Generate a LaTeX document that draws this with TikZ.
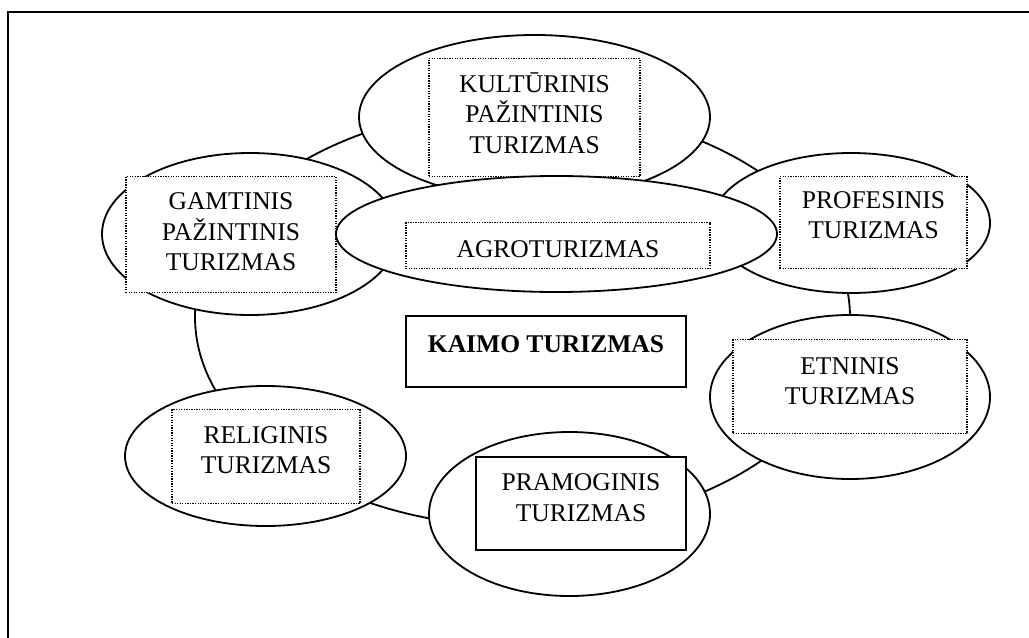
\documentclass[tikz,border=0pt]{standalone}
\usepackage{fontspec}
\setmainfont{Liberation Serif}
\usetikzlibrary{shapes.geometric}
\tikzset{
oval/.style={ellipse,draw=black,fill=white,line width=0.85pt,inner sep=0pt},
ovalsize/.style 2 args={minimum width=#1,minimum height=#2},
dotbox/.style={draw=black,fill=white,line width=0.6pt,dash pattern=on 0.6pt off 0.6pt,
inner sep=0pt,anchor=north,align=center},
solidbox/.style={draw=black,fill=white,line width=0.95pt,inner sep=0pt,anchor=north,align=center},
boxsize/.style n args={3}{minimum width=#1,text height=#2,text depth=#3},
ring/.style={line width=0.85pt},
frame/.style={line width=0.95pt}
}

\begin{document}
\begin{tikzpicture}[x=0.47pt,y=-0.47pt,every node/.style={font=\fontsize{12}{14.4}\selectfont}]
\useasboundingbox (0,0) rectangle (1029,637);
\clip (0,0) rectangle (1029,637);
\draw[frame] (8,12) rectangle (1045,660);
% ring behind the ovals
\draw[ring] (522.5,317) ellipse [x radius=327.5,y radius=210];
% ovals with their boxes
\node[oval,ovalsize={164.97pt}{77.08pt}] (kultoval) at (534.5,117) {};
\node[dotbox,boxsize={99.17pt}{44.65pt}{10.81pt}] (kult) at (534.5,58) {KULTŪRINIS\\PAŽINTINIS\\TURIZMAS};
\node[oval,ovalsize={139.12pt}{76.14pt}] (gamtoval) at (250,234) {};
\node[dotbox,boxsize={98.70pt}{44.18pt}{10.34pt}] (gamt) at (231,176) {GAMTINIS\\PAŽINTINIS\\TURIZMAS};
\node[oval,ovalsize={130.66pt}{65.8pt}] (profoval) at (851,223) {};
\node[dotbox,boxsize={87.89pt}{29.14pt}{14.10pt}] (prof) at (873.5,176) {PROFESINIS\\TURIZMAS};
\node[oval,ovalsize={207.27pt}{54.52pt}] (agrooval) at (556.5,234) {};
\node[dotbox,boxsize={142.88pt}{16.45pt}{5.17pt}] (agro) at (558,222) {AGROTURIZMAS};
\node[oval,ovalsize={131.6pt}{77.08pt}] (etnoval) at (850,397) {};
\node[dotbox,boxsize={109.98pt}{30.55pt}{13.63pt}] (etn) at (850,339) {ETNINIS\\TURIZMAS};
\node[oval,ovalsize={132.07pt}{77.08pt}] (pramoval) at (569.5,514) {};
\node[solidbox,boxsize={98.70pt}{30.08pt}{13.63pt}] (pram) at (581,456) {PRAMOGINIS\\TURIZMAS};
\node[oval,ovalsize={132.07pt}{65.8pt}] (reloval) at (265.5,456) {};
\node[dotbox,boxsize={88.36pt}{30.08pt}{14.10pt}] (rel) at (266,409) {RELIGINIS\\TURIZMAS};
% centre box
\node[solidbox,boxsize={131.60pt}{16.92pt}{16.45pt},font=\fontsize{12}{14.4}\selectfont\bfseries] (kaimo) at (546,315) {KAIMO TURIZMAS};
\end{tikzpicture}
\end{document}
